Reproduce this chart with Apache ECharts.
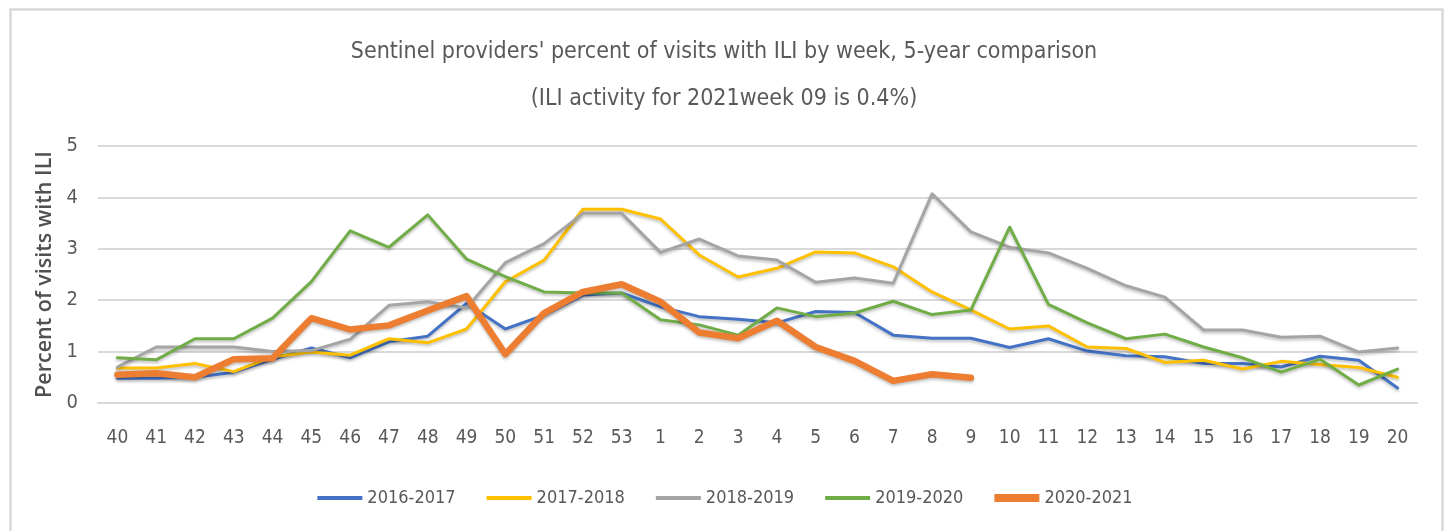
<!DOCTYPE html>
<html>
<head>
<meta charset="utf-8">
<script src="https://cdn.jsdelivr.net/npm/echarts@6/dist/echarts.min.js"></script>
<style>
  html, body { margin: 0; padding: 0; background: #fff; }
  #chart { width: 1450px; height: 531px; }
</style>
</head>
<body>
<div id="chart"></div>
<script>
// week labels, season from week 40 to week 20
var weeks = ['40','41','42','43','44','45','46','47','48','49','50','51','52','53',
  '1','2','3','4','5','6','7','8','9','10','11','12','13','14','15','16','17','18','19','20'];

var s2016 = [0.48,0.48,0.5,0.6,0.85,1.07,0.88,1.19,1.3,1.94,1.44,1.71,2.1,2.14,
  1.87,1.68,1.63,1.56,1.78,1.76,1.32,1.26,1.26,1.08,1.25,1.01,0.92,0.9,0.77,0.77,0.7,0.91,0.83,0.29];
var s2017 = [0.68,0.68,0.77,0.61,0.9,0.99,0.93,1.25,1.17,1.44,2.36,2.78,3.77,3.77,
  3.58,2.88,2.45,2.62,2.94,2.92,2.65,2.16,1.81,1.44,1.5,1.09,1.06,0.79,0.83,0.66,0.81,0.75,0.69,0.5];
var s2018 = [0.7,1.09,1.09,1.09,1.0,1.02,1.24,1.9,1.97,1.85,2.73,3.1,3.69,3.69,
  2.93,3.19,2.86,2.78,2.35,2.43,2.33,4.07,3.33,3.03,2.92,2.62,2.28,2.06,1.42,1.42,1.28,1.3,0.99,1.07];
var s2019 = [0.88,0.84,1.25,1.25,1.65,2.36,3.35,3.03,3.66,2.8,2.46,2.16,2.14,2.14,
  1.62,1.52,1.32,1.85,1.68,1.75,1.98,1.72,1.81,3.42,1.92,1.56,1.25,1.34,1.09,0.88,0.6,0.85,0.35,0.66];
var s2020 = [0.55,0.58,0.5,0.85,0.87,1.65,1.43,1.51,1.8,2.08,0.95,1.75,2.16,2.31,
  1.97,1.37,1.26,1.6,1.09,0.82,0.43,0.56,0.49];

var yTicks = [0, 1, 2, 3, 4, 5];

var narrow = '"Liberation Sans Narrow", "DejaVu Sans Condensed", sans-serif';

// legend icons: a bar inside a 45x12 box (the stray moveTo points fix the box)
var thinIcon = 'path://M0,0M0,12M0,4h45v4h-45z';
var thickIcon = 'path://M0,0M0,12M0,2h45v8h-45z';

function mkLine(name, data, color, width) {
  return {
    name: name,
    type: 'line',
    data: data,
    symbol: 'none',
    smooth: false,
    lineStyle: {
      color: color,
      width: width,
      cap: 'round',
      join: 'round',
      shadowColor: 'rgba(0,0,0,0.25)',
      shadowBlur: 3,
      shadowOffsetY: 2
    },
    itemStyle: { color: color }
  };
}

var chart = echarts.init(document.getElementById('chart'), null, { renderer: 'canvas' });

chart.setOption({
  animation: false,
  backgroundColor: '#fff',
  graphic: [{
    type: 'rect',
    left: 8, top: 7,
    shape: { width: 1432, height: 600 },
    style: { fill: 'none', stroke: '#d9d9d9', lineWidth: 2.5 },
    silent: true
  }],
  title: {
    text: "Sentinel providers' percent of visits with ILI by week, 5-year comparison\n(ILI activity for 2021week 09 is 0.4%)",
    left: 724,
    textAlign: 'center',
    top: 29,
    padding: 0,
    textStyle: {
      fontFamily: narrow,
      fontWeight: 'normal',
      fontSize: 23,
      color: '#595959',
      lineHeight: 47
    }
  },
  legend: {
    top: 484,
    left: 'center',
    itemWidth: 45,
    itemHeight: 12,
    itemGap: 31,
    textStyle: { fontFamily: narrow, fontSize: 18, color: '#595959' },
    data: [
      { name: '2016-2017', icon: thinIcon },
      { name: '2017-2018', icon: thinIcon },
      { name: '2018-2019', icon: thinIcon },
      { name: '2019-2020', icon: thinIcon },
      { name: '2020-2021', icon: thickIcon }
    ]
  },
  grid: { left: 98, right: 33, top: 146, bottom: 128 },
  xAxis: {
    type: 'category',
    data: weeks,
    boundaryGap: true,
    axisLine: { lineStyle: { color: '#d9d9d9', width: 2 } },
    axisTick: { show: false },
    axisLabel: { fontFamily: narrow, fontSize: 19, color: '#595959', margin: 26, interval: 0 }
  },
  yAxis: {
    type: 'value',
    min: yTicks[0],
    max: yTicks[yTicks.length - 1],
    interval: 1,
    name: 'Percent of visits with ILI',
    nameLocation: 'middle',
    nameGap: 36,
    nameTextStyle: { fontFamily: '"Open Sans", sans-serif', fontSize: 21.5, fontWeight: 600, color: '#505050' },
    axisLine: { show: false },
    axisTick: { show: false },
    axisLabel: { fontFamily: narrow, fontSize: 20, color: '#595959', margin: 20 },
    splitLine: { lineStyle: { color: '#d9d9d9', width: 2 } }
  },
  series: [
    mkLine('2016-2017', s2016, '#4472C4', 3),
    mkLine('2017-2018', s2017, '#FFC000', 3),
    mkLine('2018-2019', s2018, '#A5A5A5', 3),
    mkLine('2019-2020', s2019, '#70AD47', 3),
    mkLine('2020-2021', s2020, '#ED7D31', 6.5)
  ]
});
</script>
</body>
</html>
